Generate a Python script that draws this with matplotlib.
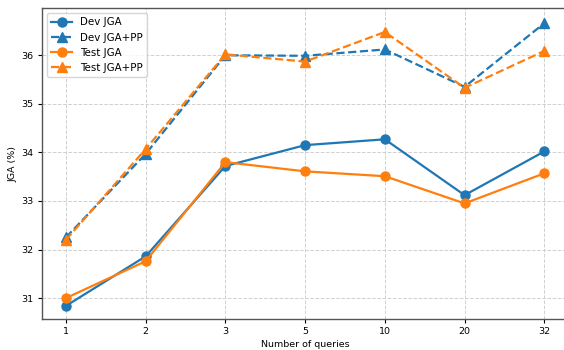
import matplotlib
matplotlib.use("Agg")
import matplotlib.pyplot as plt

queries = ["1", "2", "3", "5", "10", "20", "32"]
dev_jga = [30.84, 31.86, 33.72, 34.15, 34.27, 33.12, 34.02]
dev_jga_pp = [32.25, 33.97, 36.00, 35.99, 36.12, 35.35, 36.66]
test_jga = [31.00, 31.76, 33.80, 33.61, 33.51, 32.95, 33.57]
test_jga_pp = [32.20, 34.07, 36.02, 35.87, 36.48, 35.33, 36.09]

plt.rcParams['font.size'] = 6.8

fig = plt.figure(figsize=(5.64, 3.5), dpi=100)
ax = fig.add_axes([0.0745, 0.0886, 0.933, 0.888])

blue = "#1f77b4"
orange = "#ff7f0e"
x = range(len(queries))
ax.plot(x, dev_jga, color=blue, marker="o", markersize=6.5, linewidth=1.6, label="Dev JGA")
ax.plot(x, dev_jga_pp, color=blue, marker="^", markersize=6.5, linewidth=1.6, linestyle="--", label="Dev JGA+PP")
ax.plot(x, test_jga, color=orange, marker="o", markersize=6.5, linewidth=1.6, label="Test JGA")
ax.plot(x, test_jga_pp, color=orange, marker="^", markersize=6.5, linewidth=1.6, linestyle="--", label="Test JGA+PP")

ax.set_xticks(list(x))
ax.set_xticklabels(queries)
ax.set_xlim(-0.3, 6.3)
ax.set_ylim(30.57, 36.97)
ax.set_yticks([31, 32, 33, 34, 35, 36])
ax.tick_params(length=3, width=0.8, pad=3)
ax.set_xlabel("Number of queries", labelpad=3)
ax.set_ylabel("JGA (%)", labelpad=3)
ax.grid(True, linestyle="--", color="#d0d0d0", linewidth=0.7)
for s in ax.spines.values():
    s.set_color("#555555")
    s.set_linewidth(1.0)
ax.legend(loc="upper left", fontsize=7.4)

fig.savefig("out.png", dpi=100)
